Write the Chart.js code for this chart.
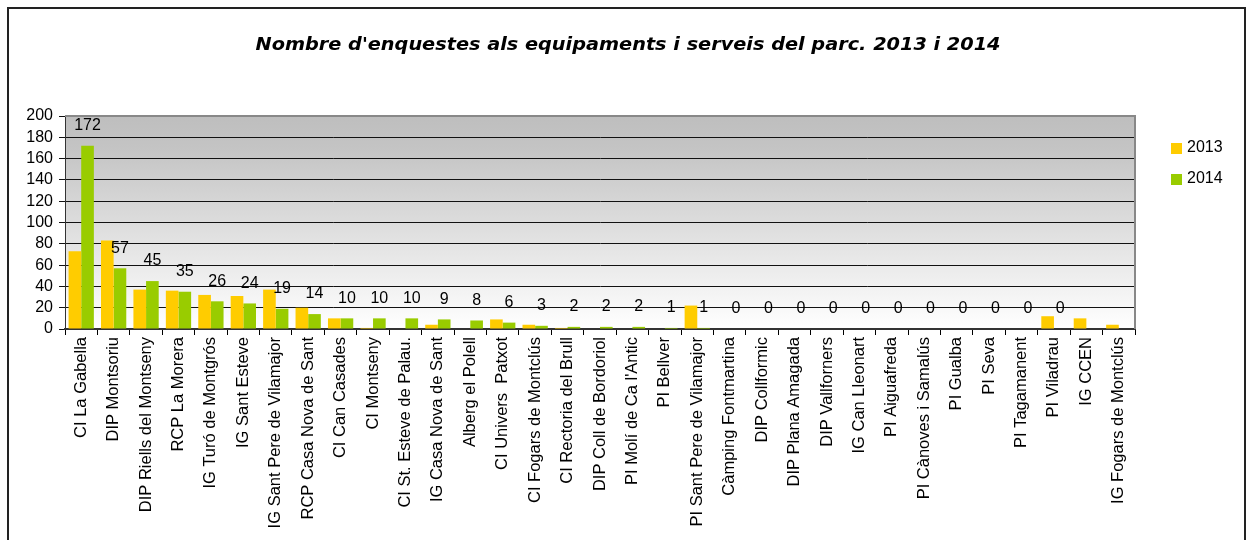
<!DOCTYPE html>
<html>
<head>
<meta charset="utf-8">
<script src="https://cdn.jsdelivr.net/npm/chart.js@4.4.1/dist/chart.umd.min.js"></script>
<style>
    html, body { margin: 0; padding: 0; background: #fff; }
    #wrap { position: relative; width: 1252px; height: 540px; overflow: hidden; }
    #marc { position: absolute; left: 7px; top: 7px; width: 1235px; height: 560px; border: 2px solid #222; pointer-events: none; }
</style>
</head>
<body>
<div id="wrap">
    <canvas id="grafic" width="1252" height="540"></canvas>
    <div id="marc"></div>
</div>
<script>
const titol = "Nombre d'enquestes als equipaments i serveis del parc. 2013 i 2014";

const equipaments = [
    "CI La Gabella", "DIP Montsoriu", "DIP Riells del Montseny", "RCP La Morera",
    "IG Turó de Montgrós", "IG Sant Esteve", "IG Sant Pere de Vilamajor", "RCP Casa Nova de Sant",
    "CI Can Casades", "CI Montseny", "CI St. Esteve de Palau.", "IG Casa Nova de Sant",
    "Alberg el Polell", "CI Univers  Patxot", "CI Fogars de Montclús", "CI Rectoria del Brull",
    "DIP Coll de Bordoriol", "PI Molí de Ca l'Antic", "PI Bellver", "PI Sant Pere de Vilamajor",
    "Càmping Fontmartina", "DIP Collformic", "DIP Plana Amagada", "DIP Vallforners",
    "IG Can Lleonart", "PI Aiguafreda", "PI Cànoves i Samalús", "PI Gualba",
    "PI Seva", "PI Tagamanent", "PI Viladrau", "IG CCEN", "IG Fogars de Montclús"
];

const enquestes2013 = [73, 83, 37, 36, 32, 31, 37, 20, 10, 1, 0, 4, 0, 9, 4, 1, 0, 0, 0, 22,
    0, 0, 0, 0, 0, 0, 0, 0, 0, 0, 12, 10, 4];
const enquestes2014 = [172, 57, 45, 35, 26, 24, 19, 14, 10, 10, 10, 9, 8, 6, 3, 2, 2, 2, 1, 1,
    0, 0, 0, 0, 0, 0, 0, 0, 0, 0, 0, null, null];

const anys = ["2013", "2014"];
const colors = ["#FFCC00", "#99CC00"];
const ticksY = [0, 20, 40, 60, 80, 100, 120, 140, 160, 180, 200];

const font = "'Liberation Sans', Arial, sans-serif";

// fons degradat de l'area del grafic
const fonsPlugin = {
    id: 'fons',
    beforeDraw(chart) {
        const { ctx, chartArea: a } = chart;
        const grad = ctx.createLinearGradient(0, a.top, 0, a.bottom);
        grad.addColorStop(0, '#bebebe');
        grad.addColorStop(0.15, '#c4c4c4');
        grad.addColorStop(1, '#ffffff');
        ctx.save();
        ctx.fillStyle = grad;
        ctx.fillRect(a.left, a.top, a.right - a.left, a.bottom - a.top);
        ctx.restore();
    },
    afterDatasetsDraw(chart) {
        const { ctx, chartArea: a } = chart;
        ctx.save();
        ctx.strokeStyle = '#888';
        ctx.lineWidth = 2;
        ctx.beginPath();
        ctx.moveTo(a.left, a.top);
        ctx.lineTo(a.right, a.top);
        ctx.lineTo(a.right, a.bottom);
        ctx.stroke();
        ctx.restore();
    }
};

// etiquetes de valor de 2014, titol i llegenda
const textPlugin = {
    id: 'textos',
    afterDraw(chart) {
        const ctx = chart.ctx;
        ctx.save();
        const meta = chart.getDatasetMeta(1);
        ctx.font = "16px " + font;
        ctx.fillStyle = '#000';
        ctx.textAlign = 'center';
        ctx.textBaseline = 'middle';
        meta.data.forEach((bar, i) => {
            const v = enquestes2014[i];
            if (v === null) return;
            ctx.fillText(String(v), bar.x, bar.y - 20);
        });

        // titol: lletra ampla i gruixuda, estirada fins a l'amplada de l'original
        ctx.save();
        ctx.font = "italic bold 18.5px 'DejaVu Sans', sans-serif";
        const w = ctx.measureText(titol).width;
        ctx.translate(628, 45);
        ctx.scale(745 / w, 1);
        ctx.fillText(titol, 0, 0);
        ctx.restore();

        ctx.textAlign = 'left';
        ctx.font = "16px " + font;
        anys.forEach((any, i) => {
            const y = 148 + i * 31;
            ctx.fillStyle = colors[i];
            ctx.fillRect(1171, y - 5, 11, 11);
            ctx.fillStyle = '#000';
            ctx.fillText(any, 1187, y);
        });
        ctx.restore();
    }
};

const ctx = document.getElementById('grafic').getContext('2d');
const grafic = new Chart(ctx, {
    type: 'bar',
    data: {
        labels: equipaments,
        datasets: [{
            label: anys[0],
            data: enquestes2013,
            backgroundColor: colors[0],
            borderWidth: 0
        }, {
            label: anys[1],
            data: enquestes2014,
            backgroundColor: colors[1],
            borderWidth: 0
        }]
    },
    options: {
        responsive: false,
        animation: false,
        datasets: {
            bar: { categoryPercentage: 0.78, barPercentage: 1.0 }
        },
        layout: {
            padding: { left: 0, right: 117, top: 116, bottom: 0 }
        },
        plugins: {
            legend: { display: false },
            title: { display: false },
            tooltip: { enabled: false }
        },
        scales: {
            x: {
                offset: true,
                grid: { drawOnChartArea: false, drawTicks: true, tickLength: 6, color: '#000', offset: true },
                border: { color: '#333', width: 2 },
                ticks: {
                    minRotation: 90,
                    maxRotation: 90,
                    autoSkip: false,
                    padding: 2,
                    color: '#000',
                    font: { family: font, size: 16.5 }
                },
                afterFit(scale) { scale.height = 211; }
            },
            y: {
                min: 0,
                max: 200,
                afterBuildTicks(scale) { scale.ticks = ticksY.map(v => ({ value: v })); },
                grid: { color: '#111', tickLength: 6, lineWidth: 1 },
                border: { color: '#333', width: 1 },
                ticks: {
                    autoSkip: false,
                    padding: 6,
                    color: '#000',
                    font: { family: font, size: 16 }
                },
                afterFit(scale) { scale.width = 65; }
            }
        }
    },
    plugins: [fonsPlugin, textPlugin]
});
</script>
</body>
</html>
